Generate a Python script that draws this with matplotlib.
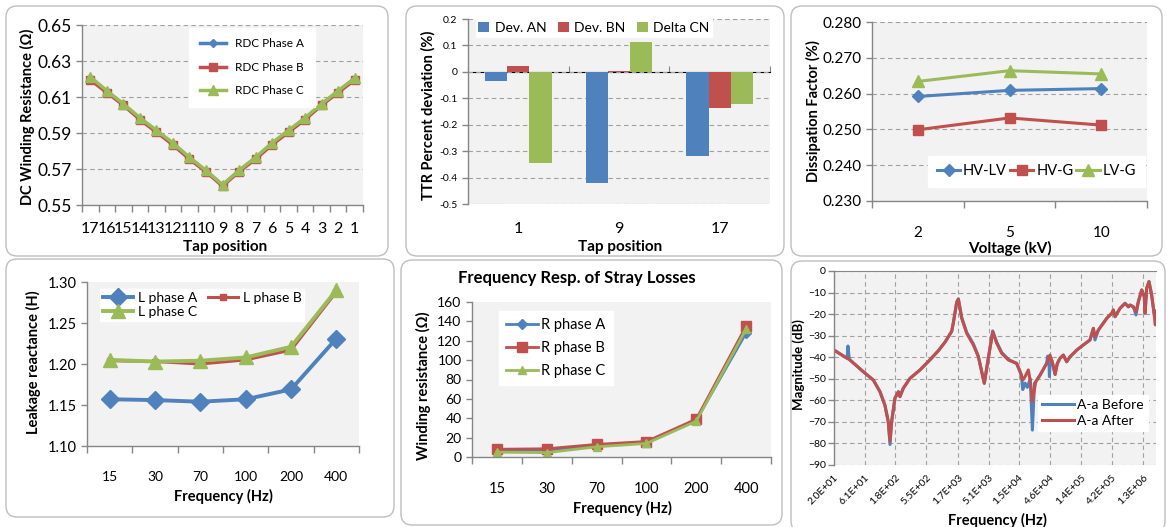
import numpy as np
import matplotlib
matplotlib.use('Agg')
import matplotlib.pyplot as plt
from matplotlib.patches import FancyBboxPatch
from matplotlib.transforms import IdentityTransform
from matplotlib.ticker import NullLocator

plt.rcParams['font.family'] = ['Lato', 'DejaVu Sans']

W, H = 1167, 527

# ---------------- data ----------------
tap_labels = ['17', '16', '15', '14', '13', '12', '11', '10', '9',
              '8', '7', '6', '5', '4', '3', '2', '1']
rdc_a = [0.620, 0.613, 0.606, 0.598, 0.591, 0.584, 0.576, 0.569, 0.561,
         0.569, 0.576, 0.584, 0.591, 0.598, 0.606, 0.613, 0.620]
rdc_b = [0.6195, 0.6125, 0.6055, 0.5975, 0.5905, 0.5835, 0.5755, 0.5685, 0.5605,
         0.5685, 0.5755, 0.5835, 0.5905, 0.5975, 0.6055, 0.6125, 0.6195]
rdc_c = [0.6212, 0.6135, 0.6062, 0.5985, 0.5915, 0.5845, 0.5765, 0.5692, 0.5612,
         0.5692, 0.5765, 0.5845, 0.5915, 0.5985, 0.6062, 0.6135, 0.6205]

ttr_taps = ['1', '9', '17']
dev_an = [-0.033, -0.420, -0.318]
dev_bn = [0.022, 0.003, -0.135]
delta_cn = [-0.343, 0.113, -0.120]

voltage = ['2', '5', '10']
df_hvlv = [0.2592, 0.2609, 0.2614]
df_hvg = [0.2499, 0.2532, 0.2512]
df_lvg = [0.2634, 0.2664, 0.2655]

freq_cats = ['15', '30', '70', '100', '200', '400']
l_a = [1.157, 1.156, 1.154, 1.157, 1.169, 1.231]
l_b = [1.204, 1.203, 1.200, 1.205, 1.217, 1.288]
l_c = [1.205, 1.203, 1.204, 1.208, 1.221, 1.290]

r_a = [7.0, 7.0, 12.0, 15.0, 38.0, 128.0]
r_b = [8.0, 8.5, 13.0, 16.0, 39.0, 135.0]
r_c = [5.0, 4.5, 10.5, 14.0, 37.0, 132.0]

fra_f_after = [20, 35.5, 57, 82, 104, 124, 140, 149, 158, 178, 201, 213, 240, 305,
               437, 625, 843, 1072, 1208, 1362, 1445, 1630, 1730, 1950, 2333, 2960,
               3540, 3990, 4385, 5060, 5930, 6840, 8180, 10400, 14000, 15800, 17400,
               18900, 21300, 23000, 24600, 27700, 32400, 41100, 46200, 50000, 55600,
               60000, 66200, 74600, 84100, 94800, 120500, 153000, 194000, 219000,
               232000, 262000, 353000, 423000, 449000, 477000, 570000, 682000,
               769000, 817000, 920000, 1010000, 1100000, 1240000, 1360000, 1400000,
               1480000, 1610000, 1770000, 1930000, 2020000, 2070000]
fra_db_after = [-36.7, -41.3, -46.7, -50.6, -56.0, -62.2, -69.9, -79.0, -69.9, -59.0,
                -56.0, -58.3, -54.4, -49.8, -45.9, -41.2, -37.0, -33.0, -30.5, -28.0,
                -24.0, -14.5, -13.0, -22.0, -28.9, -34.3, -39.8, -46.7, -52.1, -40.5,
                -28.2, -33.5, -38.2, -41.3, -42.8, -46.7, -50.6, -49.0, -45.9, -52.0,
                -60.6, -51.4, -48.3, -42.8, -39.0, -42.0, -48.0, -43.0, -40.5, -39.0,
                -42.1, -39.8, -36.7, -34.3, -32.0, -26.6, -30.5, -27.4, -22.0, -19.6,
                -18.1, -21.2, -17.3, -15.0, -16.6, -15.8, -16.6, -19.0, -14.2, -8.8,
                -11.9, -19.6, -8.0, -4.9, -11.1, -19.6, -25.0, -19.0]

fra_f_before = [20, 32, 33, 34.5, 35.5, 57, 82, 104, 124, 140, 149, 158, 178, 201, 213,
                240, 305, 437, 625, 843, 1072, 1208, 1362, 1445, 1630, 1730, 1950, 2333,
                2960, 3540, 3990, 4385, 5060, 5930, 6840, 8180, 10400, 14000, 16500,
                17400, 18900, 20500, 22800, 24600, 26500, 27700, 32400, 41100, 42500,
                44500, 45300, 46800, 50000, 55600, 60000, 66200, 74600, 84100, 94800,
                120500, 153000, 194000, 219000, 232000, 262000, 353000, 423000, 449000,
                477000, 570000, 682000, 769000, 817000, 920000, 1010000, 1100000,
                1240000, 1360000, 1400000, 1480000, 1610000, 1770000, 1930000, 2020000,
                2070000]
fra_db_before = [-36.7, -40.5, -34.8, -40.5, -41.3, -46.7, -50.6, -56.0, -62.2, -69.9,
                 -80.5, -69.9, -59.0, -56.0, -58.3, -54.4, -49.8, -45.9, -41.2, -37.0,
                 -33.0, -30.5, -28.0, -24.0, -14.5, -13.0, -21.5, -28.5, -33.8, -39.5,
                 -46.7, -52.1, -40.5, -27.8, -33.0, -37.8, -41.0, -43.0, -48.0, -55.0,
                 -52.0, -54.0, -50.0, -73.8, -52.0, -51.4, -48.3, -42.8, -39.5, -41.0,
                 -49.0, -40.5, -42.0, -48.0, -43.0, -40.5, -39.0, -42.1, -39.8, -36.7,
                 -34.3, -32.0, -26.6, -32.0, -27.4, -22.0, -19.6, -18.1, -21.2, -17.3,
                 -15.0, -16.6, -15.8, -16.6, -20.4, -14.2, -8.8, -11.9, -19.6, -8.0,
                 -4.9, -11.1, -19.6, -22.0, -18.5]
fra_tick_labels = ['2.0E+01', '6.1E+01', '1.8E+02', '5.5E+02', '1.7E+03', '5.1E+03',
                   '1.5E+04', '4.6E+04', '1.4E+05', '4.2E+05', '1.3E+06']

# ---------------- styling ----------------
BLUE = '#4F81BD'
RED = '#C0504D'
GREEN = '#9BBB59'
AXC = '#868686'
GRIDC = '#A0A0A0'
BG = '#F2F2F2'

fig = plt.figure(figsize=(W / 100, H / 100), dpi=100)


def panel(x0, y0, x1, y1):
    p = FancyBboxPatch((x0, H - y1), x1 - x0, y1 - y0,
                       boxstyle='round,pad=0,rounding_size=11',
                       transform=IdentityTransform(), facecolor='white',
                       edgecolor='#BEBEBE', linewidth=1.0, zorder=0)
    fig.add_artist(p)


def make_ax(l, t, r, b):
    ax = fig.add_axes([l / W, 1 - b / H, (r - l) / W, (b - t) / H])
    ax.set_facecolor(BG)
    for s in ['top', 'right']:
        ax.spines[s].set_visible(False)
    for s in ['left', 'bottom']:
        ax.spines[s].set_color(AXC)
        ax.spines[s].set_linewidth(1.0)
    ax.tick_params(colors=AXC, labelcolor='black', length=4, width=1.0)
    return ax


def hgrid(ax):
    ax.yaxis.grid(True, linestyle=(0, (4, 3)), color=GRIDC, linewidth=0.8)
    ax.set_axisbelow(True)


def cat_ticks(ax, labels, size):
    n = len(labels)
    ax.set_xlim(-0.5, n - 0.5)
    ax.set_xticks(np.arange(n))
    ax.set_xticklabels(labels, fontsize=size)
    ax.tick_params(axis='x', which='major', length=0, pad=10)
    ax.set_xticks(np.arange(n + 1) - 0.5, minor=True)
    ax.tick_params(axis='x', which='minor', length=5, color=AXC, width=1.0)


def ftext(x, y, s, size=10.5, rot=0, weight='bold'):
    fig.text(x / W, 1 - y / H, s, ha='center', va='center', fontsize=size,
             rotation=rot, fontweight=weight)


for box in [(6, 6, 388, 256), (406, 6, 784, 256), (791, 6, 1162, 256),
            (6, 259, 394, 517), (401, 260, 782, 525), (791, 261, 1165, 532)]:
    panel(*box)

# ---- panel 1: DC winding resistance ----
ax1 = make_ax(82, 25, 363, 205)
x = np.arange(len(tap_labels))
ax1.plot(x, rdc_a, color=BLUE, lw=2.5, marker='D', ms=4, label='RDC Phase A')
ax1.plot(x, rdc_b, color=RED, lw=2.5, marker='s', ms=6, label='RDC Phase B')
ax1.plot(x, rdc_c, color=GREEN, lw=2.5, marker='^', ms=7, label='RDC Phase C')
ax1.set_ylim(0.55, 0.65)
ax1.set_yticks([0.55, 0.57, 0.59, 0.61, 0.63, 0.65])
ax1.set_yticklabels(['0.55', '0.57', '0.59', '0.61', '0.63', '0.65'], fontsize=12.5)
hgrid(ax1)
cat_ticks(ax1, tap_labels, 11.5)
ax1.tick_params(axis='x', which='major', pad=12)
ax1.legend(loc='upper left', bbox_to_anchor=(0.381, 0.985), fontsize=8.5,
           frameon=True, fancybox=False, edgecolor='white', framealpha=1,
           labelspacing=1.05, handlelength=2.2, borderpad=0.9, borderaxespad=0)
ftext(27, 117, 'DC Winding Resistance (Ω)', size=10.5, rot=90)
ftext(225, 247, 'Tap position', size=11)

# ---- panel 2: TTR deviation ----
ax2 = make_ax(468, 19, 770, 204)
x = np.arange(len(ttr_taps))
ax2.bar(x - 0.22, dev_an, 0.22, color=BLUE, label='Dev. AN')
ax2.bar(x, dev_bn, 0.22, color=RED, label='Dev. BN')
ax2.bar(x + 0.22, delta_cn, 0.22, color=GREEN, label='Delta CN')
ax2.set_ylim(-0.5, 0.2)
yt = np.round(np.arange(-5, 3) * 0.1, 1)
ax2.set_yticks(yt)
ax2.set_yticklabels(['{:g}'.format(v + 0.0) for v in yt], fontsize=7.5)
hgrid(ax2)
ax2.spines['bottom'].set_visible(False)
ax2.set_xlim(-0.5, 2.5)
ax2.set_xticks(x)
ax2.set_xticklabels(ttr_taps, fontsize=11.5)
ax2.tick_params(axis='x', length=0, pad=13)
zero_ax = ax2.secondary_xaxis(5 / 7)
zero_ax.spines['bottom'].set_color(AXC)
zero_ax.set_xticks(np.arange(4) - 0.5)
zero_ax.set_xticklabels([])
zero_ax.tick_params(length=4, color=AXC)
ax2.legend(loc='upper left', bbox_to_anchor=(0.025, 1.0), ncol=3, fontsize=10,
           frameon=True, fancybox=False, edgecolor='white', framealpha=1,
           handlelength=0.8, handleheight=0.8, columnspacing=0.8, handletextpad=0.4,
           borderpad=0.2, borderaxespad=0)
ftext(428, 115, 'TTR Percent deviation (%)', size=10.5, rot=90)
ftext(620, 247, 'Tap position', size=11)

# ---- panel 3: dissipation factor ----
ax3 = make_ax(872, 22, 1147, 201)
x = np.arange(len(voltage))
ax3.plot(x, df_hvlv, color=BLUE, lw=2.2, marker='D', ms=6, label='HV-LV')
ax3.plot(x, df_hvg, color=RED, lw=2.2, marker='s', ms=7, label='HV-G')
ax3.plot(x, df_lvg, color=GREEN, lw=2.2, marker='^', ms=8, label='LV-G')
ax3.set_ylim(0.23, 0.28)
yt = [0.23, 0.24, 0.25, 0.26, 0.27, 0.28]
ax3.set_yticks(yt)
ax3.set_yticklabels(['%.3f' % v for v in yt], fontsize=11)
hgrid(ax3)
cat_ticks(ax3, voltage, 11)
ax3.tick_params(axis='x', which='major', pad=18)
ax3.legend(loc='lower left', bbox_to_anchor=(0.204, 0.078), ncol=3, fontsize=10.5,
           frameon=True, fancybox=False, edgecolor='white', framealpha=1,
           handlelength=1.6, columnspacing=0.2, handletextpad=0.2, borderpad=0.6,
           borderaxespad=0)
ftext(813, 111, 'Dissipation Factor (%)', size=10.5, rot=90)
ftext(1010, 248, 'Voltage (kV)', size=11)

# ---- panel 4: leakage reactance ----
ax4 = make_ax(87, 282, 359, 446)
x = np.arange(len(freq_cats))
la, = ax4.plot(x, l_a, color=BLUE, lw=2.8, marker='D', ms=9, label='L phase A')
lb, = ax4.plot(x, l_b, color=RED, lw=2.2, marker='s', ms=5, label='L phase B')
lc, = ax4.plot(x, l_c, color=GREEN, lw=2.8, marker='^', ms=10, label='L phase C')
ax4.set_ylim(1.10, 1.30)
yt = [1.10, 1.15, 1.20, 1.25, 1.30]
ax4.set_yticks(yt)
ax4.set_yticklabels(['%.2f' % v for v in yt], fontsize=10.5)
cat_ticks(ax4, freq_cats, 10)
ax4.tick_params(axis='x', which='major', pad=18)
# column-wise fill -> reorder so row 1 is A, B and row 2 is C
ax4.legend([la, lc, lb], ['L phase A', 'L phase C', 'L phase B'],
           loc='upper left', bbox_to_anchor=(0.048, 0.955), ncol=2, fontsize=10,
           frameon=True, fancybox=False, edgecolor='white', framealpha=1,
           handlelength=2.2, columnspacing=0.8, handletextpad=0.3, labelspacing=0.15,
           borderpad=0.2, borderaxespad=0)
ftext(33, 362, 'Leakage reactance (H)', size=10.5, rot=90)
ftext(223, 496, 'Frequency (Hz)', size=10.5)

# ---- panel 5: stray losses ----
ax5 = make_ax(472, 302, 771, 457)
x = np.arange(len(freq_cats))
ax5.plot(x, r_a, color=BLUE, lw=2.0, marker='D', ms=5, label='R phase A')
ax5.plot(x, r_b, color=RED, lw=2.0, marker='s', ms=7, label='R phase B')
ax5.plot(x, r_c, color=GREEN, lw=2.0, marker='^', ms=6, label='R phase C')
ax5.set_ylim(0, 160)
ax5.set_yticks(np.arange(0, 161, 20))
ax5.tick_params(axis='y', labelsize=10)
cat_ticks(ax5, freq_cats, 10.5)
ax5.tick_params(axis='x', which='major', pad=18)
ax5.legend(loc='upper left', bbox_to_anchor=(0.09, 0.942), fontsize=10.5,
           frameon=True, fancybox=False, edgecolor='white', framealpha=1,
           handlelength=2.2, handletextpad=0.2, labelspacing=0.6, borderpad=0.5,
           borderaxespad=0)
ftext(577, 278, 'Frequency Resp. of Stray Losses', size=12)
ftext(423, 386, 'Winding resistance (Ω)', size=10.5, rot=90)
ftext(622, 508, 'Frequency (Hz)', size=10.5)

# ---- panel 6: FRA ----
ax6 = make_ax(834, 271, 1156, 465)
ax6.plot(fra_f_before, fra_db_before, color=BLUE, lw=2.2, label='A-a Before')
ax6.plot(fra_f_after, fra_db_after, color=RED, lw=2.2, label='A-a After')
ax6.set_xscale('log')
ax6.set_xlim(20, 2.07e6)
ax6.set_ylim(-90, 0)
ax6.set_yticks(np.arange(-90, 1, 10))
ax6.tick_params(axis='y', labelsize=7.5, pad=2)
ax6.set_xticks([float(s) for s in fra_tick_labels])
ax6.set_xticklabels(fra_tick_labels, fontsize=7.5, rotation=45, ha='right',
                    rotation_mode='anchor')
ax6.xaxis.set_minor_locator(NullLocator())
ax6.tick_params(axis='x', length=0, pad=6)
ax6.spines['top'].set_visible(True)
ax6.spines['top'].set_color(AXC)
ax6.spines['bottom'].set_visible(False)
ax6.grid(True, linestyle=(0, (4, 3)), color=GRIDC, linewidth=0.8)
ax6.set_axisbelow(True)
ax6.legend(loc='lower right', bbox_to_anchor=(0.975, 0.175), fontsize=10,
           frameon=True, fancybox=False, edgecolor='white', framealpha=1,
           handlelength=2.3, handletextpad=0.2, labelspacing=0.3, borderpad=0.3,
           borderaxespad=0)
ftext(799, 365, 'Magnitude (dB)', size=9.5, rot=90)
ftext(997, 520, 'Frequency (Hz)', size=10.5)

fig.savefig('out.png', dpi=100)
